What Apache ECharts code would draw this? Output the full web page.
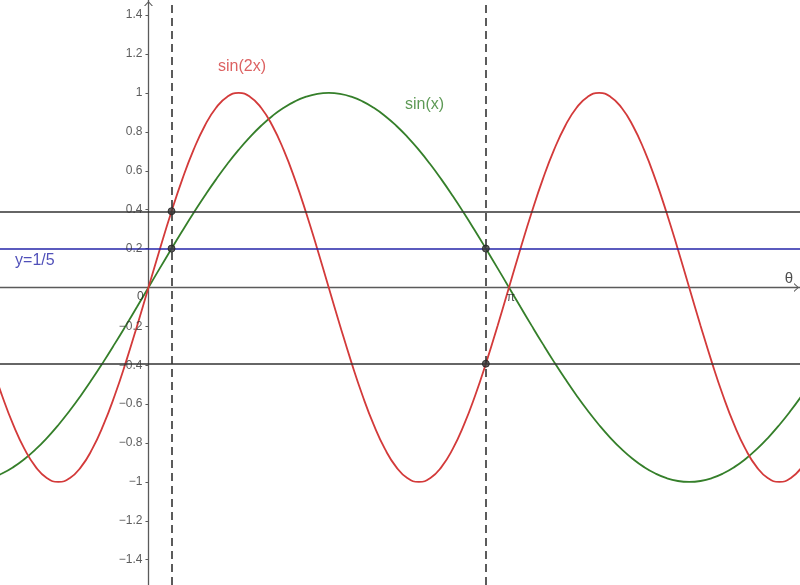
<!DOCTYPE html>
<html>
<head>
<meta charset="utf-8">
<script src="https://cdn.jsdelivr.net/npm/echarts@6/dist/echarts.min.js"></script>
<style>html,body{margin:0;padding:0;background:#fff}#c{width:800px;height:585px}</style>
</head>
<body>
<div id="c"></div>
<script>
// sample positions (x, radians, steps of pi/32) and curve values
const xs = [-1.3744,-1.2763,-1.1781,-1.0799,-0.9817,-0.8836,-0.7854,-0.6872,-0.5890,-0.4909,
  -0.3927,-0.2945,-0.1963,-0.0982,0,0.0982,0.1963,0.2945,0.3927,0.4909,
  0.5890,0.6872,0.7854,0.8836,0.9817,1.0799,1.1781,1.2763,1.3744,1.4726,
  1.5708,1.6690,1.7671,1.8653,1.9635,2.0617,2.1598,2.2580,2.3562,2.4544,
  2.5525,2.6507,2.7489,2.8471,2.9452,3.0434,3.1416,3.2398,3.3379,3.4361,
  3.5343,3.6325,3.7306,3.8288,3.9270,4.0252,4.1233,4.2215,4.3197,4.4179,
  4.5160,4.6142,4.7124,4.8106,4.9087,5.0069,5.1051,5.2033,5.3014,5.3996,
  5.4978,5.5960,5.6941];
const sinX = [-0.9808,-0.9569,-0.9239,-0.8819,-0.8315,-0.7730,-0.7071,-0.6344,-0.5556,-0.4714,
  -0.3827,-0.2903,-0.1951,-0.0980,0,0.0980,0.1951,0.2903,0.3827,0.4714,
  0.5556,0.6344,0.7071,0.7730,0.8315,0.8819,0.9239,0.9569,0.9808,0.9952,
  1.0000,0.9952,0.9808,0.9569,0.9239,0.8819,0.8315,0.7730,0.7071,0.6344,
  0.5556,0.4714,0.3827,0.2903,0.1951,0.0980,0,-0.0980,-0.1951,-0.2903,
  -0.3827,-0.4714,-0.5556,-0.6344,-0.7071,-0.7730,-0.8315,-0.8819,-0.9239,-0.9569,
  -0.9808,-0.9952,-1.0000,-0.9952,-0.9808,-0.9569,-0.9239,-0.8819,-0.8315,-0.7730,
  -0.7071,-0.6344,-0.5556];
const sin2X = [-0.3827,-0.5556,-0.7071,-0.8315,-0.9239,-0.9808,-1.0000,-0.9808,-0.9239,-0.8315,
  -0.7071,-0.5556,-0.3827,-0.1951,0,0.1951,0.3827,0.5556,0.7071,0.8315,
  0.9239,0.9808,1.0000,0.9808,0.9239,0.8315,0.7071,0.5556,0.3827,0.1951,
  0,-0.1951,-0.3827,-0.5556,-0.7071,-0.8315,-0.9239,-0.9808,-1.0000,-0.9808,
  -0.9239,-0.8315,-0.7071,-0.5556,-0.3827,-0.1951,0,0.1951,0.3827,0.5556,
  0.7071,0.8315,0.9239,0.9808,1.0000,0.9808,0.9239,0.8315,0.7071,0.5556,
  0.3827,0.1951,0,-0.1951,-0.3827,-0.5556,-0.7071,-0.8315,-0.9239,-0.9808,
  -1.0000,-0.9808,-0.9239];
// horizontal / vertical reference lines
const blackLevels = [0.392, -0.392];
const blueLevel = 0.2;
const dashedX = [0.201, 2.940];
// intersection points
const pointX = [0.201, 0.201, 2.940, 2.940];
const pointY = [0.2, 0.392, 0.2, -0.392];
// y tick labels
const yTicks = [-1.4,-1.2,-1,-0.8,-0.6,-0.4,-0.2,0.2,0.4,0.6,0.8,1,1.2,1.4];
// text annotations
const labelText = ['sin(2x)', 'sin(x)', 'y=1/5', 'θ', 'π', '0'];
const labelX = [0.606, 2.235, -1.163, 5.545, 3.122, -0.100];
const labelY = [1.134, 0.938, 0.136, 0.045, -0.054, -0.050];

const RED = '#d33a3a', GREEN = '#357f2a', BLUE = '#2424a8', DARK = '#333333';
const labelColors = [RED, GREEN, BLUE, '#222', '#222', '#222'];
const labelSizes = [16, 16, 16, 15, 12, 12];
const FONT = 'Liberation Sans, Arial, sans-serif';

const chevron = 'path://M0,5 L4.5,0 L9,5 L7.7,5 L4.5,1.4 L1.3,5 Z';

const chart = echarts.init(document.getElementById('c'), null, {renderer: 'canvas'});
const fmt = v => (v < 0 ? '\u2212' + String(Math.abs(v)) : String(v));

chart.setOption({
  animation: false,
  backgroundColor: '#ffffff',
  grid: {left: 0, right: 0, top: 0, bottom: 0, containLabel: false, outerBoundsMode: 'none'},
  xAxis: {
    type: 'value', min: -1.294, max: 5.678,
    axisLine: {show: true, onZero: true, lineStyle: {color: '#5a5a5a', width: 1.3},
      symbol: ['none', chevron], symbolSize: [9, 5], symbolOffset: [0, -3.5]},
    axisTick: {show: false}, axisLabel: {show: false}, splitLine: {show: false}
  },
  yAxis: {
    type: 'value', min: -1.530, max: 1.478,
    axisLine: {show: true, onZero: true, lineStyle: {color: '#5a5a5a', width: 1.3},
      symbol: ['none', chevron], symbolSize: [9, 5], symbolOffset: [0, -3.5]},
    axisTick: {show: true, length: 3, customValues: yTicks, lineStyle: {color: '#5a5a5a'}},
    axisLabel: {show: false},
    splitLine: {show: false}
  },
  series: [
    {
      type: 'line', name: 'levels', data: [], silent: true,
      markLine: {
        silent: true, symbol: ['none', 'none'], label: {show: false}, animation: false,
        data: [
          ...blackLevels.map(v => ({yAxis: v, lineStyle: {color: DARK, width: 1.5, type: 'solid'}})),
          {yAxis: blueLevel, lineStyle: {color: BLUE, width: 1.5, type: 'solid'}},
          ...dashedX.map(v => ({xAxis: v, lineStyle: {color: DARK, width: 1.6, type: [8, 5]}}))
        ]
      }
    },
    {
      type: 'line', name: 'sin(x)', showSymbol: false, smooth: true,
      data: xs.map((x, i) => [x, sinX[i]]),
      lineStyle: {color: GREEN, width: 1.8}, z: 3
    },
    {
      type: 'line', name: 'sin(2x)', showSymbol: false, smooth: true,
      data: xs.map((x, i) => [x, sin2X[i]]),
      lineStyle: {color: RED, width: 1.8}, z: 4
    },
    {
      type: 'scatter', name: 'points', symbolSize: 7,
      data: pointX.map((x, i) => [x, pointY[i]]),
      itemStyle: {color: '#3a3a3a', borderColor: '#222', borderWidth: 1}, z: 6
    },
    {
      type: 'scatter', name: 'yTickLabels', symbolSize: 0, silent: true, z: 7,
      data: yTicks.map(v => ({
        value: [0, v],
        label: {show: true, position: 'left', distance: 6, formatter: fmt(v),
          color: '#333', fontSize: 12, fontFamily: FONT}
      }))
    },
    {
      type: 'scatter', name: 'labels', symbolSize: 0, silent: true, z: 7,
      data: labelX.map((x, i) => ({
        value: [x, labelY[i]],
        label: {
          show: true, position: 'right', distance: 0, formatter: labelText[i],
          color: labelColors[i], fontSize: labelSizes[i], fontFamily: FONT
        }
      }))
    }
  ]
});
</script>
</body>
</html>
